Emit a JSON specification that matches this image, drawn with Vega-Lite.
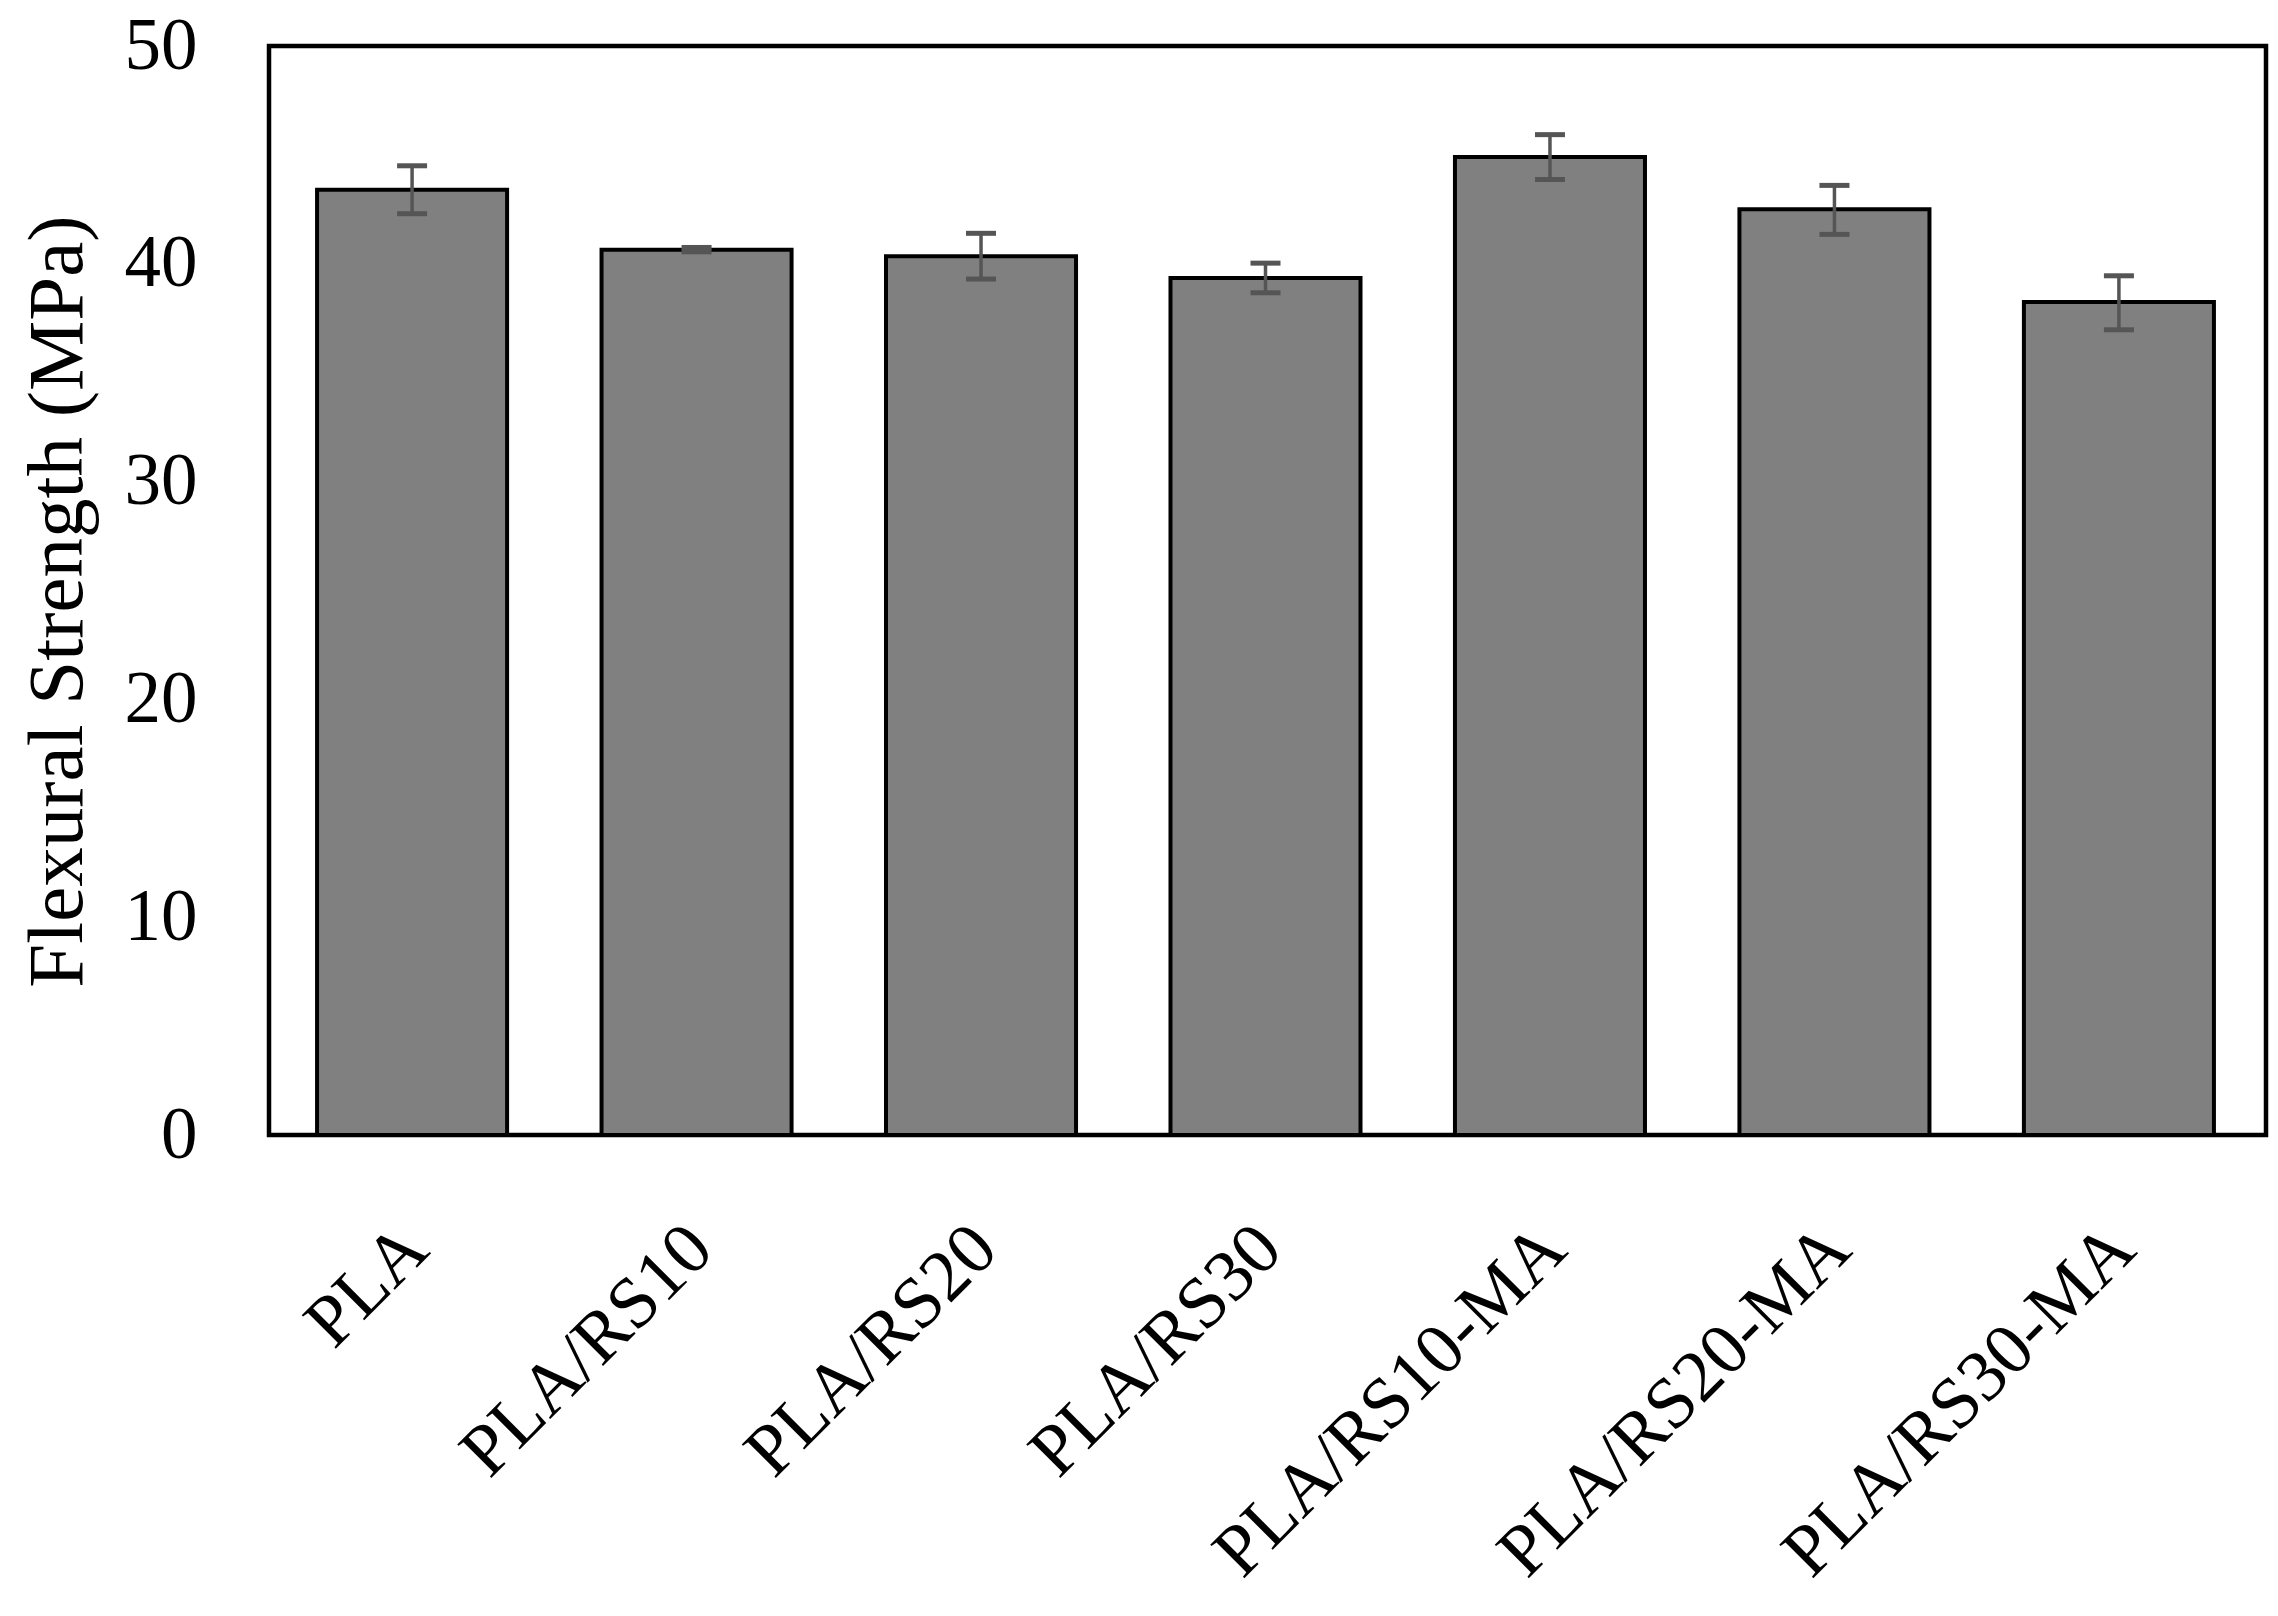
{
  "$schema": "https://vega.github.io/schema/vega-lite/v6.json",
  "width": 1997,
  "height": 1089,
  "autosize": "none",
  "padding": {"left": 269, "top": 46, "right": 12, "bottom": 481},
  "background": "white",
  "config": {
    "view": {"stroke": "black", "strokeWidth": 4.5},
    "font": "Liberation Serif",
    "axis": {"grid": false, "domain": false, "ticks": false}
  },
  "data": {
    "values": [
      {"sample": "PLA", "strength": 43.4, "low": 42.3, "high": 44.5},
      {"sample": "PLA/RS10", "strength": 40.65, "low": 40.55, "high": 40.75},
      {"sample": "PLA/RS20", "strength": 40.35, "low": 39.3, "high": 41.4},
      {"sample": "PLA/RS30", "strength": 39.35, "low": 38.67, "high": 40.03},
      {"sample": "PLA/RS10-MA", "strength": 44.9, "low": 43.87, "high": 45.93},
      {"sample": "PLA/RS20-MA", "strength": 42.5, "low": 41.35, "high": 43.6},
      {"sample": "PLA/RS30-MA", "strength": 38.25, "low": 36.97, "high": 39.45}
    ]
  },
  "encoding": {
    "x": {
      "field": "sample",
      "type": "nominal",
      "sort": null,
      "scale": {"paddingInner": 0.332, "paddingOuter": 0.176, "align": 0.48},
      "axis": {
        "title": null,
        "labelAngle": -45,
        "labelAlign": "right",
        "labelBaseline": "middle",
        "labelFontSize": 73,
        "labelColor": "black",
        "labelPadding": 102,
        "labelOffset": 4,
        "labelLimit": 1000
      }
    }
  },
  "layer": [
    {
      "mark": {"type": "bar", "fill": "#808080", "stroke": "black", "strokeWidth": 4},
      "encoding": {
        "y": {
          "field": "strength",
          "type": "quantitative",
          "scale": {"domain": [0, 50], "nice": false},
          "axis": {
            "values": [0, 10, 20, 30, 40, 50],
            "labelFontSize": 73,
            "labelColor": "black",
            "labelPadding": 72,
            "title": "Flexural Strength (MPa)",
            "titleFontSize": 79,
            "titleFontWeight": "normal",
            "titleColor": "black",
            "titleAngle": -90,
            "titleX": -212,
            "titleY": 555,
            "titleAlign": "center",
            "titleBaseline": "middle"
          }
        }
      }
    },
    {
      "mark": {"type": "rule", "color": "#555555", "strokeWidth": 3.5},
      "encoding": {
        "y": {"field": "low", "type": "quantitative"},
        "y2": {"field": "high"}
      }
    },
    {
      "mark": {"type": "tick", "color": "#555555", "size": 30, "thickness": 5, "opacity": 1},
      "encoding": {"y": {"field": "low", "type": "quantitative"}}
    },
    {
      "mark": {"type": "tick", "color": "#555555", "size": 30, "thickness": 5, "opacity": 1},
      "encoding": {"y": {"field": "high", "type": "quantitative"}}
    }
  ]
}
